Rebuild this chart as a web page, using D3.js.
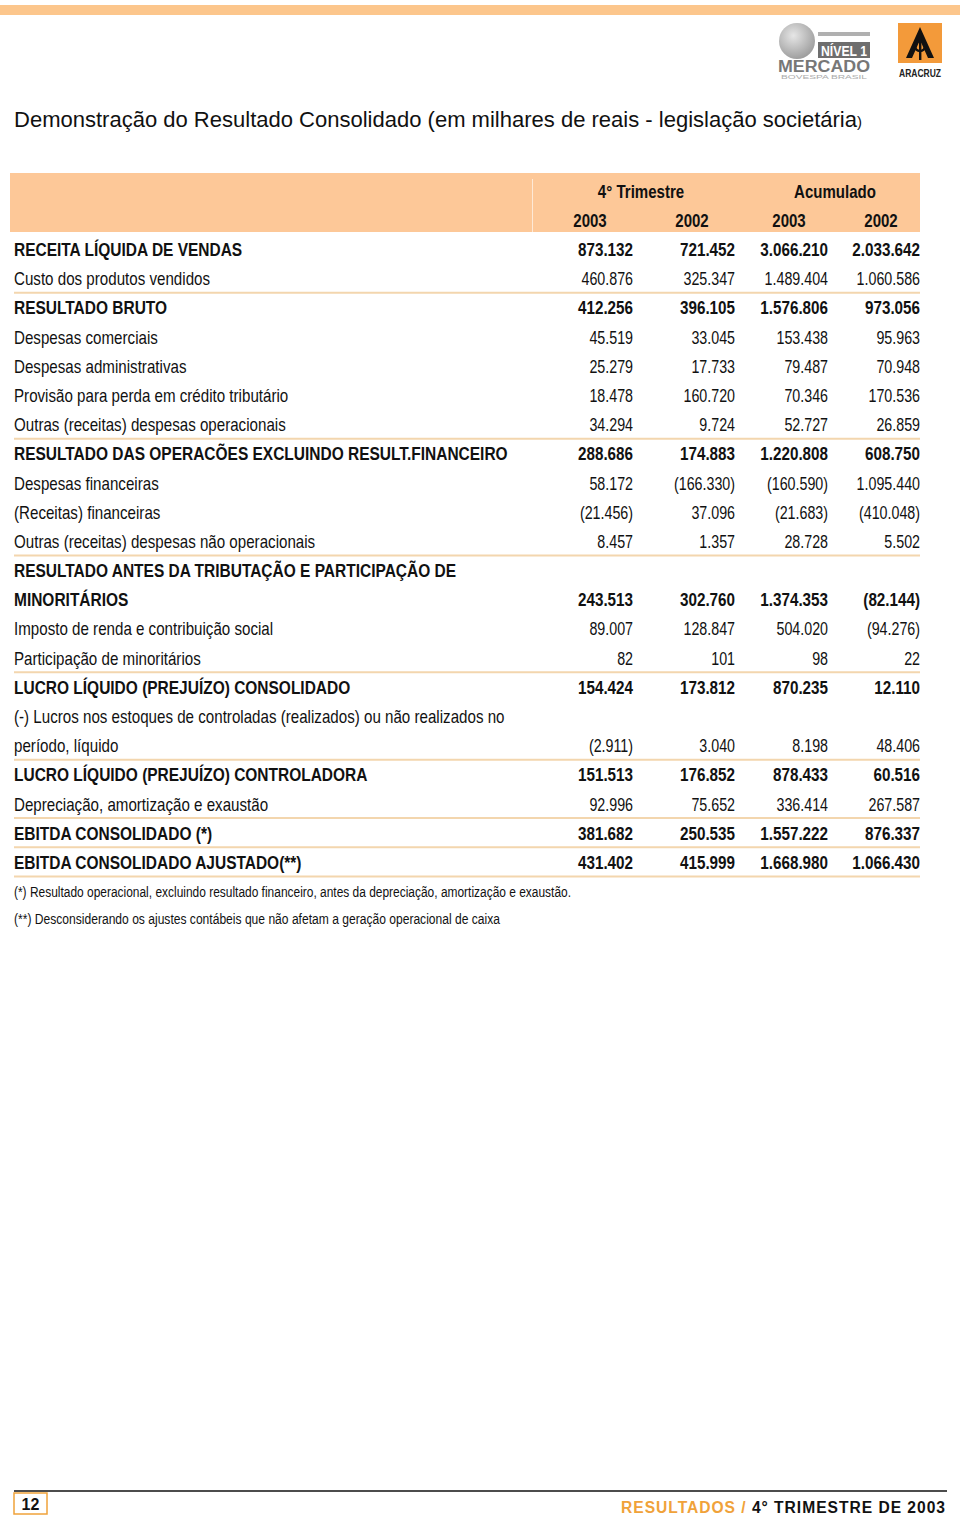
<!DOCTYPE html>
<html>
<head>
<meta charset="utf-8">
<script src="https://cdn.jsdelivr.net/npm/d3@7"></script>
<style>
  body { margin: 0; background: #fff; }
  svg { display: block; font-family: "Liberation Sans", Arial, sans-serif; }
</style>
</head>
<body>
<svg id="page" width="960" height="1521"></svg>
<script>
// table content
var rowLabels = [
  "RECEITA LÍQUIDA DE VENDAS",
  "Custo dos produtos vendidos",
  "RESULTADO BRUTO",
  "Despesas comerciais",
  "Despesas administrativas",
  "Provisão para perda em crédito tributário",
  "Outras (receitas) despesas operacionais",
  "RESULTADO DAS OPERACÕES EXCLUINDO RESULT.FINANCEIRO",
  "Despesas financeiras",
  "(Receitas) financeiras",
  "Outras (receitas) despesas não operacionais",
  "RESULTADO ANTES DA TRIBUTAÇÃO E PARTICIPAÇÃO DE",
  "MINORITÁRIOS",
  "Imposto de renda e contribuição social",
  "Participação de minoritários",
  "LUCRO LÍQUIDO (PREJUÍZO) CONSOLIDADO",
  "(-) Lucros nos estoques de controladas (realizados) ou não realizados no",
  "período, líquido",
  "LUCRO LÍQUIDO (PREJUÍZO) CONTROLADORA",
  "Depreciação, amortização e exaustão",
  "EBITDA CONSOLIDADO (*)",
  "EBITDA CONSOLIDADO AJUSTADO(**)"
];
var boldRows = [0, 2, 7, 11, 12, 15, 18, 20, 21];
var ruleAfter = [1, 6, 10, 14, 17, 19, 20, 21];

var q4_2003  = ["873.132","460.876","412.256","45.519","25.279","18.478","34.294","288.686","58.172","(21.456)","8.457","","243.513","89.007","82","154.424","","(2.911)","151.513","92.996","381.682","431.402"];
var q4_2002  = ["721.452","325.347","396.105","33.045","17.733","160.720","9.724","174.883","(166.330)","37.096","1.357","","302.760","128.847","101","173.812","","3.040","176.852","75.652","250.535","415.999"];
var acc_2003 = ["3.066.210","1.489.404","1.576.806","153.438","79.487","70.346","52.727","1.220.808","(160.590)","(21.683)","28.728","","1.374.353","504.020","98","870.235","","8.198","878.433","336.414","1.557.222","1.668.980"];
var acc_2002 = ["2.033.642","1.060.586","973.056","95.963","70.948","170.536","26.859","608.750","1.095.440","(410.048)","5.502","","(82.144)","(94.276)","22","12.110","","48.406","60.516","267.587","876.337","1.066.430"];

var groupLabels = ["4° Trimestre", "Acumulado"];
var yearLabels = ["2003", "2002", "2003", "2002"];
var footnotes = [
  "(*) Resultado operacional, excluindo resultado financeiro, antes da depreciação, amortização e exaustão.",
  "(**) Desconsiderando os ajustes contábeis que não afetam a geração operacional de caixa"
];

var orange = "#fdc898";
var ruleColor = "#f3d6ae";

var svg = d3.select("#page");

// top bar
svg.append("rect").attr("x", -6).attr("y", 5).attr("width", 972).attr("height", 10)
  .attr("rx", 5).attr("fill", "#fcc68c");

// logos
var logo = svg.append("g");
var grad = svg.append("defs").append("radialGradient").attr("id", "ball")
  .attr("cx", "40%").attr("cy", "35%").attr("r", "70%");
grad.append("stop").attr("offset", "0%").attr("stop-color", "#e6e6e6");
grad.append("stop").attr("offset", "100%").attr("stop-color", "#9a9a9a");
logo.append("circle").attr("cx", 797).attr("cy", 41).attr("r", 18).attr("fill", "url(#ball)");
logo.append("rect").attr("x", 818).attr("y", 32).attr("width", 52).attr("height", 4).attr("fill", "#b0b0b0");
logo.append("rect").attr("x", 818).attr("y", 42).attr("width", 52).attr("height", 16).attr("fill", "#6e6e6e");
logo.append("text").attr("x", 844).attr("y", 56).attr("text-anchor", "middle")
  .attr("font-size", 14).attr("font-weight", "bold").attr("fill", "#fff")
  .attr("textLength", 46).attr("lengthAdjust", "spacingAndGlyphs").text("NÍVEL 1");
logo.append("text").attr("x", 824).attr("y", 72).attr("text-anchor", "middle")
  .attr("font-size", 16).attr("font-weight", "bold").attr("fill", "#777")
  .attr("textLength", 92).attr("lengthAdjust", "spacingAndGlyphs").text("MERCADO");
logo.append("text").attr("x", 824).attr("y", 79).attr("text-anchor", "middle")
  .attr("font-size", 6).attr("fill", "#aaa").attr("textLength", 86).attr("lengthAdjust", "spacingAndGlyphs")
  .text("BOVESPA BRASIL");

logo.append("rect").attr("x", 898).attr("y", 23).attr("width", 44).attr("height", 40).attr("fill", "#f39a3a");
logo.append("path").attr("d", "M920,27 L906,58 L912,58 L920,40 L928,58 L934,58 Z").attr("fill", "#111");
logo.append("circle").attr("cx", 920).attr("cy", 46).attr("r", 5).attr("fill", "none").attr("stroke", "#111").attr("stroke-width", 2.5);
logo.append("rect").attr("x", 919).attr("y", 36).attr("width", 2.4).attr("height", 24).attr("fill", "#111");
logo.append("text").attr("x", 920).attr("y", 77).attr("text-anchor", "middle")
  .attr("font-size", 11).attr("font-weight", "bold").attr("fill", "#222")
  .attr("textLength", 42).attr("lengthAdjust", "spacingAndGlyphs").text("ARACRUZ");

// title
var title = svg.append("text").attr("x", 14).attr("y", 127).attr("font-size", 22).attr("fill", "#111")
  .attr("textLength", 848).attr("lengthAdjust", "spacingAndGlyphs");
title.append("tspan").text("Demonstração do Resultado Consolidado (em milhares de reais - legislação societária");
title.append("tspan").attr("font-size", 15).text(")");

// header band
svg.append("rect").attr("x", 10).attr("y", 173).attr("width", 910).attr("height", 59).attr("fill", orange);
svg.append("rect").attr("x", 532).attr("y", 179).attr("width", 1).attr("height", 53).attr("fill", "#fff").attr("opacity", 0.6);

var colRight = [633, 735, 828, 920];
var colCenter = [590, 692, 789, 881];
var groupCenter = [641, 835];

function cText(x, y, size, weight, s, sx) {
  return svg.append("text")
    .attr("transform", "translate(" + x + "," + y + ") scale(" + sx + ",1)")
    .attr("font-size", size).attr("font-weight", weight).attr("fill", "#111").text(s);
}

groupLabels.forEach(function (g, i) {
  cText(groupCenter[i], 198, 17.5, "bold", g, 0.86).attr("text-anchor", "middle");
});
yearLabels.forEach(function (g, i) {
  cText(colCenter[i], 227, 17.5, "bold", g, 0.86).attr("text-anchor", "middle");
});

// rows
var y = d3.scaleLinear().domain([0, rowLabels.length - 1]).range([256, 869]);
var columns = [q4_2003, q4_2002, acc_2003, acc_2002];

rowLabels.forEach(function (label, i) {
  var bold = boldRows.indexOf(i) >= 0;
  var w = bold ? "bold" : "normal";
  cText(14, y(i), 17.5, w, label, bold ? 0.885 : 0.865);
  columns.forEach(function (col, c) {
    if (col[i]) cText(colRight[c], y(i), 17.5, w, col[i], bold ? 0.87 : 0.815).attr("text-anchor", "end");
  });
});

svg.selectAll("line.rule").data(ruleAfter).enter().append("line")
  .attr("class", "rule")
  .attr("x1", 14).attr("x2", 920)
  .attr("y1", function (d) { return y(d) + 7.5; })
  .attr("y2", function (d) { return y(d) + 7.5; })
  .attr("stroke", ruleColor).attr("stroke-width", 2);

// footnotes
var fnWidth = [557, 486];
footnotes.forEach(function (f, i) {
  svg.append("text").attr("x", 14).attr("y", 897 + i * 27).attr("font-size", 14).attr("fill", "#111")
    .attr("textLength", fnWidth[i]).attr("lengthAdjust", "spacingAndGlyphs").text(f);
});

// page footer
svg.append("line").attr("x1", 14).attr("x2", 947).attr("y1", 1491).attr("y2", 1491)
  .attr("stroke", "#111").attr("stroke-width", 1.5);
svg.append("rect").attr("x", 14).attr("y", 1493).attr("width", 33).attr("height", 21)
  .attr("fill", "#fff").attr("stroke", "#f0a23a").attr("stroke-width", 1.5);
svg.append("text").attr("x", 30.5).attr("y", 1510).attr("text-anchor", "middle")
  .attr("font-size", 16).attr("font-weight", "bold").attr("fill", "#111").text("12");

var foot = svg.append("text").attr("x", 946).attr("y", 1513).attr("text-anchor", "end")
  .attr("font-size", 16).attr("font-weight", "bold").attr("letter-spacing", 1)
  .attr("textLength", 325).attr("lengthAdjust", "spacingAndGlyphs");
foot.append("tspan").attr("fill", "#f0a23a").text("RESULTADOS / ");
foot.append("tspan").attr("fill", "#111").text("4° TRIMESTRE DE 2003");
</script>
</body>
</html>
